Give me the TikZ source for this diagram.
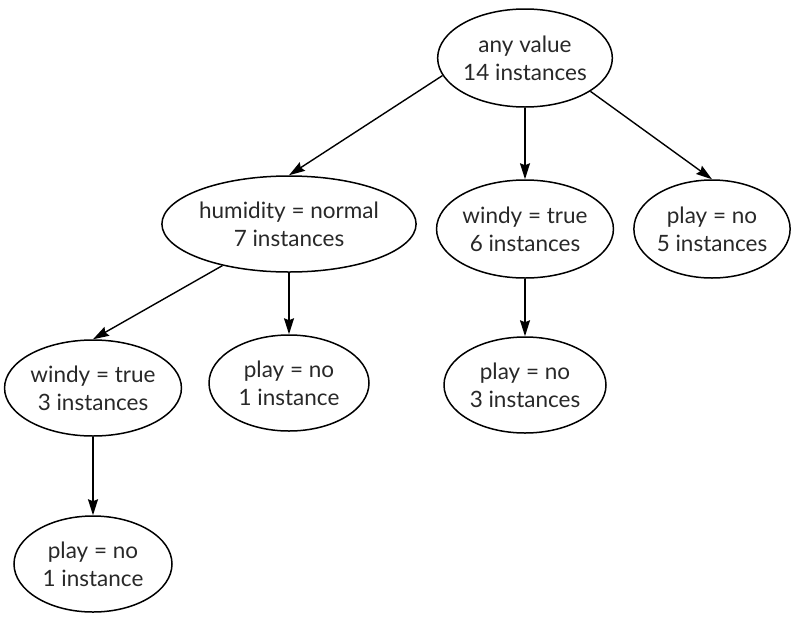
\documentclass[tikz,border=0pt]{standalone}
\usepackage{fontspec}
\setmainfont{Lato}
\usetikzlibrary{arrows.meta,shapes.geometric}
\definecolor{txt}{RGB}{40,40,40}
\tikzset{
  ell/.style={draw=black, line width=1.5pt, ellipse, inner sep=0pt, align=center,
    font=\fontsize{22.5}{28}\selectfont, text=txt},
  arr/.style={draw=black, line width=1.4pt, -{Stealth[length=16pt,width=10pt,inset=2pt]}}
}
\begin{document}
\begin{tikzpicture}[x=1pt,y=-1pt]
\useasboundingbox (0,0) rectangle (792,619);
\node[ell, minimum width=168pt, minimum height=98pt] (root) at (525,58) {any value\\14 instances};
\node[ell, minimum width=248pt, minimum height=96pt] (hum) at (289,224) {humidity = normal\\7 instances};
\node[ell, minimum width=162pt, minimum height=98pt] (wind6) at (525,229) {windy = true\\6 instances};
\node[ell, minimum width=148pt, minimum height=98pt] (play5) at (712,229) {play = no\\5 instances};
\node[ell, minimum width=168pt, minimum height=96pt] (wind3) at (93,388) {windy = true\\3 instances};
\node[ell, minimum width=160pt, minimum height=96pt] (play1m) at (289,383) {play = no\\1 instance};
\node[ell, minimum width=162pt, minimum height=96pt] (play3) at (525,385) {play = no\\3 instances};
\node[ell, minimum width=158pt, minimum height=96pt] (play1b) at (93,564) {play = no\\1 instance};
\draw[arr] (root.192) -- (hum.north);
\draw[arr] (root.south) -- (wind6.north);
\draw[arr] (root.333) -- (play5.north);
\draw[arr] (hum.212) -- (wind3.north);
\draw[arr] (hum.south) -- (play1m.north);
\draw[arr] (wind6.south) -- (play3.north);
\draw[arr] (wind3.south) -- (play1b.north);
\end{tikzpicture}
\end{document}
